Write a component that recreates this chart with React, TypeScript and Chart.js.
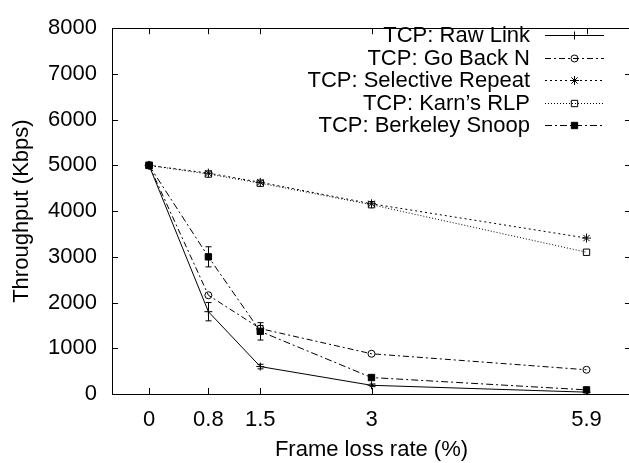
import React, { useEffect, useRef } from 'react';
import { Chart, registerables } from 'chart.js';

Chart.register(...registerables);

// Frame loss rate (%) on the x axis
const lossRates = [0, 0.8, 1.5, 3, 5.9];
const xTickValues = [0, 0.8, 1.5, 3, 5.9];
const yTickStep = 1000;

// Throughput (Kbps) per protocol
const rawLink = [5000, 1800, 600, 190, 40];
const rawLinkErr = [0, 200, 50, 30, 0];
const goBackN = [5000, 2160, 1430, 880, 530];
const goBackNErr = [0, 0, 70, 0, 0];
const selectiveRepeat = [5000, 4830, 4630, 4160, 3410];
const karnRlp = [5000, 4810, 4610, 4140, 3100];
const berkeleySnoop = [5000, 3000, 1370, 360, 90];
const berkeleySnoopErr = [0, 220, 190, 0, 0];

const seriesNames = [
  'TCP: Raw Link',
  'TCP: Go Back N',
  'TCP: Selective Repeat',
  'TCP: Karn\u2019s RLP',
  'TCP: Berkeley Snoop',
];
const seriesValues = [rawLink, goBackN, selectiveRepeat, karnRlp, berkeleySnoop];
const seriesErrors = [rawLinkErr, goBackNErr, null, null, berkeleySnoopErr];

const FONT = '"Liberation Sans", Arial, Helvetica, sans-serif';
const FONT_SIZE = 22;

type Style = { dash: number[]; point: string; radius: number; filled: boolean; order: number };
const styles: Style[] = [
  { dash: [], point: 'cross', radius: 4, filled: false, order: 4 },
  { dash: [6, 3, 2, 3], point: 'circle', radius: 3.5, filled: false, order: 3 },
  { dash: [2, 3], point: 'star', radius: 4.5, filled: false, order: 2 },
  { dash: [1, 2], point: 'rect', radius: 4.5, filled: false, order: 1 },
  { dash: [7, 3, 2, 3], point: 'rect', radius: 4.5, filled: true, order: 0 },
];

function drawMarker(ctx: CanvasRenderingContext2D, style: Style, x: number, y: number) {
  const r = style.radius;
  ctx.save();
  ctx.setLineDash([]);
  ctx.lineWidth = 1;
  ctx.strokeStyle = '#000';
  ctx.fillStyle = '#000';
  ctx.beginPath();
  if (style.point === 'cross') {
    ctx.moveTo(x - r, y); ctx.lineTo(x + r, y);
    ctx.moveTo(x, y - r); ctx.lineTo(x, y + r);
    ctx.stroke();
  } else if (style.point === 'circle') {
    ctx.arc(x, y, r, 0, Math.PI * 2);
    ctx.stroke();
  } else if (style.point === 'star') {
    ctx.moveTo(x - r, y); ctx.lineTo(x + r, y);
    ctx.moveTo(x, y - r); ctx.lineTo(x, y + r);
    const d = r * Math.SQRT1_2;
    ctx.moveTo(x - d, y - d); ctx.lineTo(x + d, y + d);
    ctx.moveTo(x - d, y + d); ctx.lineTo(x + d, y - d);
    ctx.stroke();
  } else {
    const s = r * Math.SQRT1_2;
    ctx.rect(x - s, y - s, 2 * s, 2 * s);
    if (style.filled) ctx.fill();
    ctx.stroke();
  }
  ctx.restore();
}

// Plot frame with inward mirrored ticks on all four sides
const framePlugin = {
  id: 'frame',
  afterDatasetsDraw(chart: any) {
    const { ctx, chartArea } = chart;
    const { left, right, top, bottom } = chartArea;
    const xs = chart.scales.x;
    const ys = chart.scales.y;
    const len = 6;
    ctx.save();
    ctx.strokeStyle = '#000';
    ctx.lineWidth = 1;
    ctx.setLineDash([]);
    ctx.beginPath();
    ctx.rect(Math.round(left) + 0.5, Math.round(top) + 0.5, Math.round(right - left), Math.round(bottom - top));
    ctx.stroke();
    ctx.beginPath();
    for (const v of xTickValues) {
      const px = Math.round(xs.getPixelForValue(v)) + 0.5;
      ctx.moveTo(px, bottom); ctx.lineTo(px, bottom - len);
      ctx.moveTo(px, top); ctx.lineTo(px, top + len);
    }
    for (let v = ys.min; v <= ys.max; v += yTickStep) {
      const py = Math.round(ys.getPixelForValue(v)) + 0.5;
      ctx.moveTo(left, py); ctx.lineTo(left + len, py);
      ctx.moveTo(right, py); ctx.lineTo(right - len, py);
    }
    ctx.stroke();
    ctx.restore();
  },
};

// Vertical error bars with small caps
const errorBarPlugin = {
  id: 'errorBars',
  afterDatasetsDraw(chart: any) {
    const { ctx } = chart;
    const xs = chart.scales.x;
    const ys = chart.scales.y;
    ctx.save();
    ctx.strokeStyle = '#000';
    ctx.lineWidth = 1;
    ctx.setLineDash([]);
    seriesErrors.forEach((errs, si) => {
      if (!errs) return;
      errs.forEach((e, i) => {
        if (!e) return;
        const v = seriesValues[si][i];
        const px = Math.round(xs.getPixelForValue(lossRates[i])) + 0.5;
        const y1 = ys.getPixelForValue(v + e);
        const y2 = ys.getPixelForValue(v - e);
        ctx.beginPath();
        ctx.moveTo(px, y1); ctx.lineTo(px, y2);
        ctx.moveTo(px - 3, y1); ctx.lineTo(px + 3, y1);
        ctx.moveTo(px - 3, y2); ctx.lineTo(px + 3, y2);
        ctx.stroke();
      });
    });
    ctx.restore();
  },
};

// Key in the upper right, text right-aligned with the sample to its right
const keyPlugin = {
  id: 'key',
  afterDraw(chart: any) {
    const { ctx } = chart;
    const textRight = 530;
    const lineStart = 545;
    const lineEnd = 604;
    const firstRow = 35;
    const rowStep = 22.5;
    ctx.save();
    ctx.font = `${FONT_SIZE}px ${FONT}`;
    ctx.fillStyle = '#000';
    ctx.textAlign = 'right';
    ctx.textBaseline = 'middle';
    seriesNames.forEach((name, i) => {
      const y = firstRow + i * rowStep;
      ctx.fillText(name, textRight, y + 1);
      const st = styles[i];
      ctx.beginPath();
      ctx.setLineDash(st.dash);
      ctx.lineWidth = 1;
      ctx.strokeStyle = '#000';
      ctx.moveTo(lineStart, Math.round(y) + 0.5);
      ctx.lineTo(lineEnd, Math.round(y) + 0.5);
      ctx.stroke();
      drawMarker(ctx, st, (lineStart + lineEnd) / 2, Math.round(y) + 0.5);
    });
    ctx.restore();
  },
};

export default function App() {
  const canvasRef = useRef<HTMLCanvasElement | null>(null);

  useEffect(() => {
    const canvas = canvasRef.current;
    if (!canvas) return;
    const font = { family: FONT, size: FONT_SIZE };
    const chart = new Chart(canvas, {
      type: 'line',
      data: {
        datasets: seriesNames.map((name, i) => ({
          label: name,
          data: lossRates.map((x, j) => ({ x, y: seriesValues[i][j] })),
          borderColor: '#000',
          borderWidth: 1,
          borderDash: styles[i].dash,
          backgroundColor: styles[i].filled ? '#000' : 'rgba(0,0,0,0)',
          pointBorderColor: '#000',
          pointBackgroundColor: styles[i].filled ? '#000' : 'rgba(0,0,0,0)',
          pointStyle: styles[i].point as any,
          pointRadius: styles[i].radius,
          pointBorderWidth: 1,
          tension: 0,
          fill: false,
          order: styles[i].order,
        })),
      },
      options: {
        animation: false,
        responsive: false,
        devicePixelRatio: 1,
        layout: { padding: { top: 18, right: 9, left: 0, bottom: 0 } },
        plugins: { legend: { display: false }, tooltip: { enabled: false } },
        scales: {
          x: {
            type: 'linear',
            min: -0.5,
            max: 6.5,
            afterBuildTicks: (s: any) => {
              s.ticks = xTickValues.map((v) => ({ value: v }));
            },
            afterFit: (s: any) => {
              s.height = 69;
            },
            ticks: {
              callback: (v: any) => String(v),
              font,
              color: '#000',
              padding: 13,
              maxRotation: 0,
              autoSkip: false,
            },
            grid: { display: false, drawTicks: false },
            border: { display: false },
            title: {
              display: true,
              text: 'Frame loss rate (%)',
              font,
              color: '#000',
              padding: { top: 0, bottom: 0 },
            },
          },
          y: {
            min: 0,
            max: 8000,
            afterFit: (s: any) => {
              s.width = 112;
            },
            ticks: {
              stepSize: yTickStep,
              callback: (v: any) => String(v),
              font,
              color: '#000',
              padding: 15,
            },
            grid: { display: false, drawTicks: false },
            border: { display: false },
            title: {
              display: true,
              text: 'Throughput (Kbps)',
              font,
              color: '#000',
              padding: { top: 9, bottom: 0 },
            },
          },
        },
      },
      plugins: [framePlugin, errorBarPlugin, keyPlugin],
    });
    return () => chart.destroy();
  }, []);

  return (
    <div style={{ position: 'absolute', left: 0, top: 0, width: 640, height: 463, background: '#fff' }}>
      <canvas ref={canvasRef} width={640} height={463} />
    </div>
  );
}
